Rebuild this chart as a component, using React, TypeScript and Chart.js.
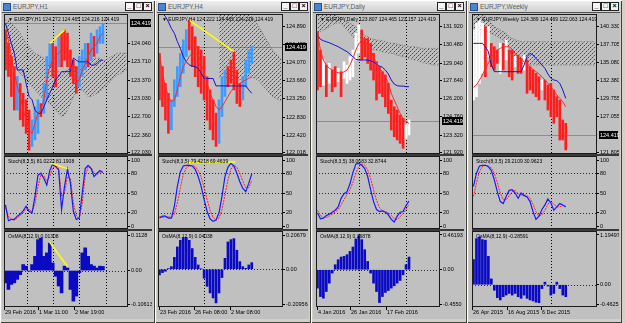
import React, { useEffect, useRef } from 'react';
import { Chart, registerables } from 'chart.js';
Chart.register(...registerables);

const FONT = '"Liberation Sans", "DejaVu Sans", Arial, sans-serif';

// ---------------- H1 ----------------
const h1High = [124.30,124.05,123.81,123.62,123.44,123.31,123.13,123.01,122.82,122.64,122.88,123.01,122.94,123.31,123.81,124.05,124.05,123.99,124.18,124.24,124.30,124.24,123.93,123.74,123.62,123.81,123.93,124.05,124.05,124.24,124.18,124.30,124.36,124.42];
const h1Low = [123.56,123.44,123.07,122.82,122.82,122.64,122.52,122.39,122.08,122.15,122.27,122.39,122.70,122.76,123.01,123.62,123.44,123.25,123.62,123.62,123.74,123.62,123.44,123.31,123.13,123.25,123.44,123.56,123.62,123.74,123.81,123.87,124.05,124.05];
const h1Up = [0,0,0,0,1,0,0,0,0,1,1,1,0,1,1,1,0,0,1,0,0,0,0,0,0,1,1,1,0,1,0,1,1,1];
const h1Red = [124.30,124.11,123.81,123.50,123.25,123.07,122.82,122.64,122.45,122.39,122.58,122.76,122.82,123.01,123.38,123.62,123.74,123.81,123.87,123.93,123.93,123.87,123.68,123.44,123.31,123.38,123.56,123.68,123.81,123.93,123.99,124.05,124.18,124.24];
const h1Blue = [124.42,124.24,124.05,123.87,123.56,123.56,123.56,123.31,123.07,123.01,122.82,122.76,122.76,122.88,123.01,123.13,123.25,123.38,123.44,123.53,123.53,123.53,123.53,123.78,123.74,123.71,123.71,123.71,123.71,123.65,123.65,123.68,123.74,123.74];
const h1CloudA = [124.48,124.48,124.42,124.36,124.30,124.24,124.14,124.05,123.99,123.93,123.87,123.84,123.81,123.78,123.74,123.68,123.62,123.56,123.53,123.50,123.53,123.56,123.59,123.62,123.62,123.62,123.65,123.68,123.71,123.74,123.78,123.78,123.78,123.74,123.74,123.78,123.81,123.84,123.87,123.87,123.87,123.87];
const h1CloudB = [123.68,123.62,123.62,123.62,123.56,123.50,123.44,123.38,123.31,123.25,123.19,123.13,123.07,123.01,122.98,122.94,122.88,122.82,122.76,122.70,122.73,122.82,122.94,123.07,123.16,123.19,123.19,123.13,123.07,123.07,123.10,123.13,123.16,123.22,123.25,123.31,123.38,123.44,123.47,123.50,123.53,123.56];
const h1StochMain = [32,8,10,10,15,18,23,30,22,20,45,77,80,72,62,84,94,90,85,25,60,86,65,22,10,12,50,87,92,87,75,80,84,81];
const h1StochSig = [28,15,10,9,12,16,20,26,25,22,33,60,78,76,68,75,88,91,88,45,50,75,72,35,15,11,35,75,90,89,80,78,82,81];
const h1Osma = [-0.039,-0.060,-0.044,-0.039,-0.028,-0.013,0.019,0.014,-0.002,0.019,0.045,0.098,0.103,0.045,0.056,0.087,0.024,-0.018,-0.049,-0.071,0.014,0.008,-0.060,-0.097,-0.081,-0.007,0.056,0.072,0.045,0.019,0.014,0.008,0.014,0.013];
const h1PriceTicks = [124.040,123.710,123.370,123.030,122.700,122.360,122.030];
const h1OsmaTicks = [0.1128, 0, -0.10613];
const h1OsmaLabels = ['0.1128', '0.00', '-0.10613'];
const h1Seps = [7.3, 16.1, 24.9, 34.1];
const h1DateIdx = [-0.5, 11.0, 23.2];
const h1Dates = ['29 Feb 2016', '1 Mar 11:00', '2 Mar 19:00'];
const h1YellowPrice = [[15, 124.05], [20, 124.30]];
const h1YellowStoch = [[15, 96], [21, 87]];
const h1YellowOsma = [[15, 0.09], [21, 0.013]];

// ---------------- H4 ----------------
const h4High = [124.28,123.98,123.60,123.37,123.22,123.68,123.98,124.28,124.59,124.82,125.04,124.89,124.66,124.44,124.36,124.21,123.75,123.45,123.22,122.92,123.22,123.75,123.90,123.98,124.13,124.32,123.90,123.60,123.75,124.13,124.36,124.44];
const h4Low = [123.22,123.07,122.76,122.46,122.54,123.07,123.30,123.52,123.83,124.21,124.36,123.98,123.75,123.52,123.37,123.22,122.76,122.54,122.31,122.16,122.23,122.84,123.30,123.52,123.60,123.45,123.14,123.07,123.22,123.52,123.83,124.06];
const h4Up = [0,0,0,0,1,1,1,1,1,1,0,0,0,0,0,0,0,0,0,0,1,1,1,0,0,0,0,0,1,1,1,1];
const h4Red = [124.25,123.83,123.52,123.30,123.18,123.22,123.45,123.75,123.98,124.09,124.21,124.28,124.28,124.25,124.06,123.83,123.60,123.37,123.22,123.07,122.99,123.07,123.18,123.30,123.41,123.49,123.56,123.60,123.64,123.68,123.71,123.74];
const h4Blue = [125.31,125.20,125.12,125.00,124.85,124.74,124.55,124.40,124.21,124.09,124.02,123.99,123.98,123.94,123.83,123.71,123.71,123.71,123.71,123.54,123.54,123.54,123.54,123.54,123.54,123.54,123.54,123.54,123.54,123.54,123.45,123.37];
const h4CloudA = [null,null,null,null,null,null,null,null,null,null,null,null,null,null,null,null,null,null,null,null,125.25,125.25,125.25,125.25,125.25,125.25,125.25,125.25,125.25,125.25,125.25,125.12,125.04,124.93,124.82,124.70,124.59,124.47,124.36,124.28,124.21,124.13];
const h4CloudB = [null,null,null,null,null,null,null,null,null,null,null,null,null,null,null,null,null,null,null,null,123.75,123.71,123.68,123.68,123.68,123.68,123.68,123.68,123.71,123.75,123.75,123.75,123.71,123.68,123.60,123.52,123.45,123.37,123.30,123.26,123.22,123.22];
const h4StochMain = [12,15,15,12,12,30,60,82,91,92,92,91,86,75,60,40,22,11,7,9,20,45,75,89,95,91,80,67,57,52,65,79];
const h4StochSig = [14,13,14,14,13,18,35,58,78,88,91,92,90,84,74,58,40,24,13,9,12,25,47,70,86,92,89,80,68,58,58,69];
const h4Osma = [-0.034,-0.020,-0.012,0.004,0.016,0.072,0.135,0.175,0.191,0.191,0.175,0.125,0.072,0.026,0.002,-0.054,-0.103,-0.143,-0.173,-0.203,-0.143,-0.050,0.066,0.165,0.179,0.185,0.115,0.046,0.016,0.006,0.026,0.040];
const h4PriceTicks = [124.890,124.480,124.070,123.660,123.250,122.830,122.420,122.018];
const h4OsmaTicks = [0.20679, 0, -0.20956];
const h4OsmaLabels = ['0.20679', '0.00', '-0.20956'];
const h4Seps = [15.0];
const h4DateIdx = [-0.3, 11.6, 23.7];
const h4Dates = ['23 Feb 2016', '26 Feb 08:00', '2 Mar 08:00'];
const h4YellowPrice = [[10, 125.04], [25, 124.32]];
const h4YellowStoch = [[9, 96], [25.5, 97]];

// ---------------- Daily ----------------
const dHigh = [131.53,130.07,129.28,128.88,129.01,128.48,128.75,128.62,128.35,129.14,128.88,129.54,130.07,131.39,132.06,131.66,130.98,130.98,130.60,129.81,129.14,128.75,128.35,128.09,127.43,126.10,125.57,125.31,124.91,124.65,124.12,124.52];
const dLow = [126.90,127.16,127.29,126.37,127.43,126.76,127.16,127.56,126.37,127.82,127.43,127.69,127.95,129.28,129.81,129.28,129.54,129.01,128.48,127.69,126.10,126.63,126.37,125.57,125.04,123.72,123.19,122.93,122.66,122.27,123.06,123.33];
const dUp = [0,0,1,0,1,0,0,1,0,1,1,1,1,1,1,0,0,0,0,0,0,0,0,0,0,0,0,0,0,0,1,1];
const dRed = [131.39,130.07,129.28,128.88,128.62,128.48,128.35,128.27,128.22,128.35,128.48,128.88,129.41,130.07,130.60,130.73,130.65,130.47,130.07,129.54,129.01,128.62,128.35,127.95,127.43,126.63,126.10,125.57,125.04,124.65,124.38,124.25];
const dBlue = [131.26,130.92,130.81,130.73,130.65,130.55,130.44,130.34,130.20,130.07,129.94,129.75,129.54,129.33,129.28,129.28,129.28,129.28,129.22,129.12,128.96,128.80,128.70,128.48,128.17,127.69,127.37,127.24,127.21,127.21,127.16,127.16];
const dCloudA = [132.98,132.98,132.98,132.98,132.98,132.98,132.85,132.72,132.58,132.45,132.32,132.19,132.06,131.92,131.66,131.39,131.26,131.13,130.98,130.92,130.86,130.86,130.81,130.73,130.65,130.60,130.60,130.55,130.47,130.47,130.39,130.34,130.34,130.34,130.28,130.20,130.20,130.20,130.20,130.20,130.20,130.20];
const dCloudB = [131.39,131.53,131.66,131.79,131.92,132.06,132.19,132.24,132.19,131.92,131.66,131.39,131.13,130.86,130.73,130.60,130.47,130.34,130.20,130.07,130.07,130.02,129.94,129.86,129.81,129.81,129.75,129.67,129.60,129.54,129.49,129.41,129.33,129.28,129.22,129.14,129.06,129.01,128.96,128.88,128.88,128.88];
const dStochMain = [20,11,12,16,18,21,24,29,42,49,52,64,81,94,95,92,87,75,55,37,25,22,23,21,17,10,6,15,21,22,31,38];
const dStochSig = [24,16,13,13,15,18,21,25,32,40,48,55,66,80,90,94,92,85,72,55,39,28,23,22,20,16,11,10,14,19,25,33];
const dOsma = [-0.244,-0.356,-0.378,-0.289,-0.178,-0.044,0.067,0.133,0.169,0.178,0.200,0.244,0.302,0.409,0.453,0.400,0.267,0.111,-0.044,-0.178,-0.289,-0.436,-0.356,-0.302,-0.276,-0.244,-0.213,-0.178,-0.142,-0.067,0.067,0.169];
const dPriceTicks = [131.920,130.480,129.040,127.640,126.200,124.760,123.320,121.920];
const dOsmaTicks = [0.46193, 0, -0.4550];
const dOsmaLabels = ['0.46193', '0.00', '-0.4550'];
const dSeps = [14.2, 29.9];
const dDateIdx = [-0.3, 11.0, 23.2];
const dDates = ['4 Jan 2016', '26 Jan 2016', '17 Feb 2016'];

// ---------------- Weekly ----------------
const wHigh = [139.84,140.82,141.31,140.82,140.33,140.33,137.88,137.39,136.90,137.88,137.88,138.37,136.90,136.90,135.92,136.17,135.68,136.17,135.43,134.45,133.96,133.47,132.98,132.49,132.49,131.76,132.00,131.02,130.04,129.55,126.61,126.12];
const wLow = [129.55,130.04,132.00,133.47,132.98,135.92,134.45,133.96,134.94,133.47,133.96,135.43,132.98,132.49,134.45,133.47,133.47,133.96,130.53,131.02,130.53,130.04,129.55,131.02,129.55,128.08,127.10,126.12,127.10,123.67,123.67,122.20];
const wUp = [1,1,1,1,0,1,0,0,0,1,0,1,0,0,1,0,0,1,0,0,0,0,0,1,0,0,0,0,0,0,0,0];
const wRed = [131.41,131.76,132.49,133.23,134.21,134.94,135.92,136.51,136.90,137.15,137.39,137.39,137.39,137.00,136.41,135.83,135.43,135.19,134.80,134.45,134.06,133.72,133.38,132.98,132.49,132.00,131.51,130.93,130.29,129.80,129.31,128.57];
const wBlue = [137.88,137.88,137.88,137.88,137.39,136.66,134.70,133.72,133.72,133.72,133.72,133.72,133.72,133.72,133.72,133.72,133.72,134.70,135.92,136.41,136.17,135.68,135.19,134.70,134.21,133.38,132.74,132.49,132.40,132.00,131.02,129.80];
const wCloudA = [142.30,142.30,142.30,142.05,141.80,141.31,140.82,140.33,140.09,139.84,139.60,139.35,138.86,138.62,138.37,138.28,138.13,138.13,138.13,138.13,138.13,138.13,138.13,138.13,138.13,138.13,138.13,138.13,138.13,138.13,138.13,138.13,138.13,138.13,138.13,138.13,138.13,138.13,138.13,138.13,138.13,138.13];
const wCloudB = [136.90,137.88,138.86,139.35,139.60,139.60,139.35,139.11,138.86,138.62,138.37,137.88,136.90,135.92,135.19,134.70,134.70,134.70,134.70,134.70,134.70,134.70,134.70,134.70,134.70,134.70,134.70,134.70,134.70,134.70,134.70,134.70,134.70,134.70,134.70,134.70,134.70,134.70,134.70,134.70,134.70,134.70];
const wStochMain = [60,80,91,92,92,90,84,70,52,37,34,45,54,55,50,42,50,46,44,37,22,10,15,25,32,41,35,24,29,34,32,29];
const wStochSig = [45,65,82,90,92,91,88,80,66,50,40,40,46,52,54,49,47,47,46,42,33,22,15,17,24,33,37,33,29,29,31,31];
const wOsma = [0.605,1.109,1.147,1.085,1.070,0.682,0.140,-0.132,-0.310,-0.364,-0.287,-0.248,-0.209,-0.248,-0.209,-0.287,-0.326,-0.248,-0.326,-0.364,-0.388,-0.419,-0.430,-0.093,0.062,-0.031,-0.248,-0.209,0.062,-0.093,-0.248,-0.287];
const wPriceTicks = [140.330,137.705,135.080,132.380,129.755,127.055,121.805];
const wOsmaTicks = [1.19497, 0, -0.4625];
const wOsmaLabels = ['1.19497', '0.00', '-0.4625'];
const wSeps = [26.0];
const wDateIdx = [-0.5, 11.2, 22.7];
const wDates = ['26 Apr 2015', '16 Aug 2015', '6 Dec 2015'];

const lastPrice = 124.419;
const stochTicks = [100, 80, 50, 20, 0];
const stochLevels = [80, 50, 20];

type Win = any;

const wins: Win[] = [
  { title: 'EURJPY,H1', L: 0, R: 155, plotL: 4, plotR: 128,
    header: '▼ EURJPY,H1 124.272 124.465 124.216 124.419', pMin: 122.01, pMax: 124.593, pTicks: h1PriceTicks,
    high: h1High, low: h1Low, up: h1Up, upColor: '#3c9cff', red: h1Red, blue: h1Blue, cloudA: h1CloudA, cloudB: h1CloudB,
    yP: h1YellowPrice, sMain: h1StochMain, sSig: h1StochSig, sLabel: 'Stoch(8,3,5) 81.0222 81.1908', yS: h1YellowStoch,
    osma: h1Osma, oLabel: 'OsMA(8,12,9) 0.01308', oTicks: h1OsmaTicks, oLabels: h1OsmaLabels, yO: h1YellowOsma, oBar: 3,
    seps: h1Seps, dateIdx: h1DateIdx, dates: h1Dates },
  { title: 'EURJPY,H4', L: 155, R: 311, plotL: 158, plotR: 283,
    header: '▼ EURJPY,H4 124.222 124.465 124.216 124.419', pMin: 121.988, pMax: 125.179, pTicks: h4PriceTicks,
    high: h4High, low: h4Low, up: h4Up, upColor: '#3c9cff', red: h4Red, blue: h4Blue, cloudA: h4CloudA, cloudB: h4CloudB,
    yP: h4YellowPrice, sMain: h4StochMain, sSig: h4StochSig, sLabel: 'Stoch(8,3,5) 79.4218 69.4639', yS: h4YellowStoch,
    osma: h4Osma, oLabel: 'OsMA(8,12,9) 0.04038', oTicks: h4OsmaTicks, oLabels: h4OsmaLabels, yO: null, oBar: 2,
    seps: h4Seps, dateIdx: h4DateIdx, dates: h4Dates },
  { title: 'EURJPY,Daily', L: 311, R: 467, plotL: 316, plotR: 440,
    header: '▼ EURJPY,Daily 123.807 124.465 123.157 124.419', pMin: 121.82, pMax: 132.93, pTicks: dPriceTicks,
    high: dHigh, low: dLow, up: dUp, upColor: '#ffffff', red: dRed, blue: dBlue, cloudA: dCloudA, cloudB: dCloudB,
    yP: null, sMain: dStochMain, sSig: dStochSig, sLabel: 'Stoch(8,3,5) 38.0683 32.8744', yS: null,
    osma: dOsma, oLabel: 'OsMA(8,12,9) 0.16878', oTicks: dOsmaTicks, oLabels: dOsmaLabels, yO: null, oBar: 2,
    seps: dSeps, dateIdx: dDateIdx, dates: dDates },
  { title: 'EURJPY,Weekly', L: 467, R: 622, plotL: 472, plotR: 597,
    header: '▼ EURJPY,Weekly 124.389 124.469 122.063 124.419', pMin: 121.61, pMax: 142.20, pTicks: wPriceTicks,
    high: wHigh, low: wLow, up: wUp, upColor: '#ffffff', red: wRed, blue: wBlue, cloudA: wCloudA, cloudB: wCloudB,
    yP: null, sMain: wStochMain, sSig: wStochSig, sLabel: 'Stoch(8,3,5) 29.2109 30.9623', yS: null,
    osma: wOsma, oLabel: 'OsMA(8,12,9) -0.28591', oTicks: wOsmaTicks, oLabels: wOsmaLabels, yO: null, oBar: 2,
    seps: wSeps, dateIdx: wDateIdx, dates: wDates },
];

const PRICE_TOP = 14, PRICE_H = 140;
const STOCH_TOP = 156, STOCH_H = 73;
const OSMA_TOP = 231, OSMA_H = 76;
const DATE_H = 12;

function axisW(w: Win) { return w.R - 3 - w.plotR; }

function yScale(min: number, max: number, ticks: number[], labels: string[], aw: number) {
  return {
    type: 'linear', position: 'right', min, max,
    afterBuildTicks: (s: any) => { s.ticks = ticks.map((v) => ({ value: v })); },
    afterFit: (s: any) => { s.width = aw; s.paddingTop = 0; s.paddingBottom = 0; },
    ticks: { autoSkip: false, color: '#000', font: { family: FONT, size: 5.5 }, padding: 1,
      callback: (_v: any, i: number) => labels[i] },
    grid: { drawOnChartArea: false, drawTicks: true, tickLength: 2, color: '#000' },
    border: { display: false },
  };
}

function mkPlugin(o: any) {
  return {
    id: 'mt',
    beforeDatasetsDraw(chart: any) {
      const { ctx, chartArea: a, scales } = chart;
      ctx.save();
      ctx.beginPath(); ctx.rect(a.left, a.top, a.right - a.left, a.bottom - a.top); ctx.clip();
      ctx.lineWidth = 1;
      if (o.price != null) {
        const y = Math.round(scales.y.getPixelForValue(o.price)) + 0.5;
        ctx.strokeStyle = '#8c8c8c'; ctx.setLineDash([]);
        ctx.beginPath(); ctx.moveTo(a.left, y); ctx.lineTo(a.right, y); ctx.stroke();
      }
      ctx.strokeStyle = '#2a2a2a'; ctx.setLineDash([1, 2]);
      (o.levels || []).forEach((v: number) => {
        const y = Math.round(scales.y.getPixelForValue(v)) + 0.5;
        ctx.beginPath(); ctx.moveTo(a.left, y); ctx.lineTo(a.right, y); ctx.stroke();
      });
      ctx.strokeStyle = '#000';
      (o.seps || []).forEach((v: number) => {
        const x = Math.round(scales.x.getPixelForValue(v)) + 0.5;
        ctx.beginPath(); ctx.moveTo(x, a.top); ctx.lineTo(x, a.bottom); ctx.stroke();
      });
      ctx.restore();
    },
    afterDraw(chart: any) {
      const { ctx, chartArea: a, scales } = chart;
      ctx.save();
      ctx.strokeStyle = '#1c1c1c'; ctx.lineWidth = 1; ctx.setLineDash([]);
      ctx.strokeRect(a.left + 0.5, a.top + 0.5, a.right - a.left - 1, a.bottom - a.top - 1);
      ctx.fillStyle = '#000'; ctx.textBaseline = 'top'; ctx.textAlign = 'left';
      if (o.label) { ctx.font = `${o.labelSize || 5.5}px ${FONT}`; ctx.fillText(o.label, a.left + 4, a.top + 3); }
      if (o.priceBox != null) {
        const y = Math.round(scales.y.getPixelForValue(o.priceBox));
        ctx.fillStyle = '#000';
        ctx.fillRect(a.right + 2, y - 4, chart.width - a.right - 3, 8);
        ctx.fillStyle = '#fff'; ctx.font = `5.5px ${FONT}`; ctx.textBaseline = 'middle';
        ctx.fillText(o.priceBoxText, a.right + 3, y + 0.5);
      }
      if (o.dates) {
        ctx.fillStyle = '#000'; ctx.font = `5.5px ${FONT}`; ctx.textBaseline = 'top';
        o.dates.forEach((t: string, k: number) => {
          const x = Math.round(scales.x.getPixelForValue(o.dateIdx[k]));
          ctx.fillRect(x, a.bottom, 1, 3);
          ctx.fillText(t, x + 1, a.bottom + 3);
        });
      }
      ctx.restore();
    },
  };
}

function mkPattern(ctx: CanvasRenderingContext2D) {
  const pc = document.createElement('canvas');
  pc.width = 4; pc.height = 4;
  const p = pc.getContext('2d')!;
  p.fillStyle = '#4a4a4a';
  p.fillRect(0, 3, 1, 1); p.fillRect(2, 1, 1, 1);
  p.fillStyle = '#8a8a8a';
  p.fillRect(1, 2, 1, 1); p.fillRect(3, 0, 1, 1);
  return ctx.createPattern(pc, 'repeat');
}

const pts = (arr: (number | null)[]) => arr.map((v, i) => ({ x: i, y: v }));
const pairs = (arr: number[][]) => arr.map(([x, y]) => ({ x, y }));
const xScale = { type: 'linear', min: -0.5, max: 41.5, display: false, offset: false };
const baseOpts = { responsive: false, animation: false, events: [] as any[] };

function priceChart(cv: HTMLCanvasElement, w: Win) {
  const ctx = cv.getContext('2d')!;
  const pat = mkPattern(ctx);
  const ds: any[] = [
    { type: 'line', data: pts(w.cloudA), fill: '+1', backgroundColor: pat, borderColor: '#6a6a6a', borderWidth: 1, borderDash: [1, 2], pointRadius: 0, order: 6 },
    { type: 'line', data: pts(w.cloudB), fill: false, borderColor: '#6a6a6a', borderWidth: 1, borderDash: [1, 2], pointRadius: 0, order: 6 },
    { type: 'bar', data: w.low.map((lo: number, i: number) => ({ x: i, y: [lo, w.high[i]] })),
      backgroundColor: w.up.map((u: number) => (u ? w.upColor : '#ff1e1e')), barThickness: 2, grouped: false, order: 4 },
    { type: 'line', data: pts(w.blue), borderColor: '#1414c8', borderWidth: 1, pointRadius: 0, fill: false, order: 2 },
    { type: 'line', data: pts(w.red), borderColor: '#ff2828', borderWidth: 1, pointRadius: 0, fill: false, order: 1 },
  ];
  if (w.yP) ds.push({ type: 'line', data: pairs(w.yP), borderColor: '#ffff00', borderWidth: 1.5, pointRadius: 0, fill: false, order: 0 });
  const aw = axisW(w);
  return new Chart(ctx, {
    type: 'bar', data: { datasets: ds },
    options: { ...baseOpts, layout: { padding: { bottom: 3 } },
      plugins: { legend: { display: false }, tooltip: { enabled: false } },
      scales: { x: xScale, y: yScale(w.pMin, w.pMax, w.pTicks, w.pTicks.map((v: number) => v.toFixed(3)), aw) } } as any,
    plugins: [mkPlugin({ seps: w.seps, price: lastPrice, label: w.header, labelSize: 5, priceBox: lastPrice, priceBoxText: lastPrice.toFixed(3) })],
  } as any);
}

function stochChart(cv: HTMLCanvasElement, w: Win) {
  const ds: any[] = [
    { type: 'line', data: pts(w.sSig), borderColor: '#ff2020', borderWidth: 1, borderDash: [2, 1], pointRadius: 0, fill: false, order: 2 },
    { type: 'line', data: pts(w.sMain), borderColor: '#1a1aff', borderWidth: 1.2, pointRadius: 0, fill: false, order: 1 },
  ];
  if (w.yS) ds.push({ type: 'line', data: pairs(w.yS), borderColor: '#ffff00', borderWidth: 1.5, pointRadius: 0, fill: false, order: 0 });
  const aw = axisW(w);
  return new Chart(cv.getContext('2d')!, {
    type: 'line', data: { datasets: ds },
    options: { ...baseOpts, layout: { padding: 0 },
      plugins: { legend: { display: false }, tooltip: { enabled: false } },
      scales: { x: xScale, y: yScale(-4.5, 106.1, stochTicks, stochTicks.map(String), aw) } } as any,
    plugins: [mkPlugin({ seps: w.seps, levels: stochLevels, label: w.sLabel, labelSize: 5 })],
  } as any);
}

function osmaChart(cv: HTMLCanvasElement, w: Win) {
  const hi = w.oTicks[0], lo = w.oTicks[2];
  const span = hi - lo;
  const ds: any[] = [
    { type: 'bar', data: pts(w.osma), backgroundColor: '#0a0ac4', barThickness: w.oBar, grouped: false, order: 2 },
  ];
  if (w.yO) ds.push({ type: 'line', data: pairs(w.yO), borderColor: '#ffff00', borderWidth: 1.5, pointRadius: 0, fill: false, order: 0 });
  const aw = axisW(w);
  return new Chart(cv.getContext('2d')!, {
    type: 'bar', data: { datasets: ds },
    options: { ...baseOpts, layout: { padding: { bottom: DATE_H } },
      plugins: { legend: { display: false }, tooltip: { enabled: false } },
      scales: { x: xScale, y: yScale(lo - span * 3 / 69, hi + span * 4 / 69, w.oTicks, w.oLabels, aw) } } as any,
    plugins: [mkPlugin({ seps: w.seps, levels: [0], label: w.oLabel, labelSize: 5, dates: w.dates, dateIdx: w.dateIdx })],
  } as any);
}

function Btn({ right, children }: { right: number; children: React.ReactNode }) {
  return (
    <div style={{ position: 'absolute', top: 1, right, width: 7, height: 7, background: '#f4f4f4', border: '1px solid #222',
      fontSize: 7, lineHeight: '6px', textAlign: 'center', fontFamily: FONT, color: '#000', fontWeight: 'bold' }}>{children}</div>
  );
}

export default function App() {
  const refs = useRef<(HTMLCanvasElement | null)[]>([]);
  useEffect(() => {
    const charts: Chart[] = [];
    wins.forEach((w, k) => {
      const c = refs.current;
      if (c[k * 3]) charts.push(priceChart(c[k * 3]!, w));
      if (c[k * 3 + 1]) charts.push(stochChart(c[k * 3 + 1]!, w));
      if (c[k * 3 + 2]) charts.push(osmaChart(c[k * 3 + 2]!, w));
    });
    return () => charts.forEach((ch) => ch.destroy());
  }, []);

  return (
    <div style={{ position: 'fixed', left: 0, top: 0, width: 625, height: 323, background: '#d4d0c8', overflow: 'hidden' }}>
      {wins.map((w, k) => {
        const W = w.R - w.L;
        return (
          <div key={'win' + k} style={{ position: 'absolute', left: w.L, top: 0, width: W, height: 323, background: '#d4d0c8',
            boxShadow: 'inset 1px 1px 0 #ffffff, inset -1px -1px 0 #404040' }}>
            <div style={{ position: 'absolute', left: 2, top: 1, width: W - 4, height: 11, background: 'linear-gradient(#eeeeee, #d2d2d2)' }}>
              <div style={{ position: 'absolute', left: 1, top: 2, width: 6, height: 6, background: '#4a86d0', border: '1px solid #2a4f8f' }} />
              <div style={{ position: 'absolute', left: 11, top: 1, fontFamily: FONT, fontSize: 6.5, color: '#5a5a5a', whiteSpace: 'nowrap', lineHeight: '9px' }}>{w.title}</div>
              <Btn right={19}>_</Btn>
              <Btn right={10}>□</Btn>
              <Btn right={1}>×</Btn>
            </div>
            <div style={{ position: 'absolute', left: 2, top: 12, width: W - 4, height: 307, background: '#c0c0c0', borderTop: '1px solid #505050', boxSizing: 'border-box' }} />
            <div style={{ position: 'absolute', left: w.plotL - w.L, top: 154, width: w.R - 3 - w.plotL, height: 2, background: '#3a3a3a' }} />
            <div style={{ position: 'absolute', left: w.plotL - w.L, top: 229, width: w.R - 3 - w.plotL, height: 2, background: '#3a3a3a' }} />
          </div>
        );
      })}
      {wins.map((w, k) => {
        const cw = w.R - 3 - w.plotL;
        return (
          <React.Fragment key={'cv' + k}>
            <canvas ref={(el) => { refs.current[k * 3] = el; }} width={cw} height={PRICE_H + 3}
              style={{ position: 'absolute', left: w.plotL, top: PRICE_TOP, width: cw, height: PRICE_H + 3 }} />
            <canvas ref={(el) => { refs.current[k * 3 + 1] = el; }} width={cw} height={STOCH_H}
              style={{ position: 'absolute', left: w.plotL, top: STOCH_TOP, width: cw, height: STOCH_H }} />
            <canvas ref={(el) => { refs.current[k * 3 + 2] = el; }} width={cw} height={OSMA_H + DATE_H}
              style={{ position: 'absolute', left: w.plotL, top: OSMA_TOP, width: cw, height: OSMA_H + DATE_H }} />
          </React.Fragment>
        );
      })}
    </div>
  );
}
